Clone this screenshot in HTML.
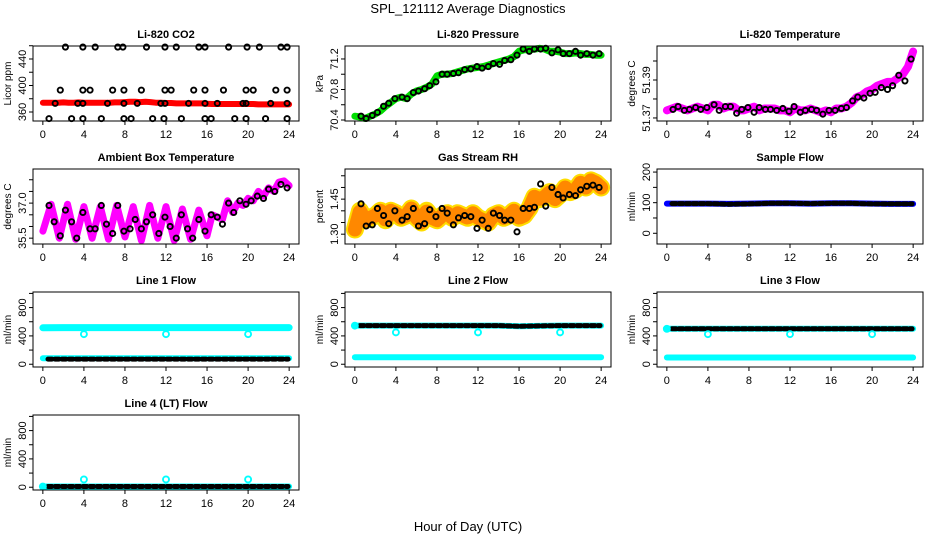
<!DOCTYPE html>
<html><head><meta charset="utf-8"><style>
html,body{margin:0;padding:0;background:#fff;}
svg{display:block;font-family:"Liberation Sans",Arial,sans-serif;}
</style></head><body>
<svg id="fig" width="936" height="540" viewBox="0 0 936 540" xmlns="http://www.w3.org/2000/svg">
<text x="468" y="13" text-anchor="middle" font-size="13">SPL_121112  Average Diagnostics</text>
<text x="468" y="531" text-anchor="middle" font-size="13">Hour of Day (UTC)</text>
</svg>
<script>
// ---- shared time grids ----
const halfHours = [0,0.5,1,1.5,2,2.5,3,3.5,4,4.5,5,5.5,6,6.5,7,7.5,8,8.5,9,9.5,10,10.5,11,11.5,12,12.5,13,13.5,14,14.5,15,15.5,16,16.5,17,17.5,18,18.5,19,19.5,20,20.5,21,21.5,22,22.5,23,23.5,24];
const avgHours = [0.6,1.1,1.7,2.2,2.8,3.3,3.9,4.6,5.1,5.7,6.2,6.8,7.3,7.9,8.5,9.0,9.6,10.1,10.7,11.3,11.9,12.4,13,13.5,14.1,14.6,15.2,15.8,16.4,17,17.5,18.1,18.6,19.2,19.8,20.3,20.9,21.5,22,22.6,23.2,23.8];
const flatHours = [0,2,4,6,8,10,12,14,16,18,20,22,24];
const flatHoursB = [0.5,2,4,6,8,10,12,14,16,18,20,22,23.9];
const xTicks = [0,4,8,12,16,20,24];

// ---- CO2 ----
const co2Band = [374,374,374,374,374.5,374,374,374.5,374,374,374,374,374,374,374.5,374.5,375,375.5,375.5,375,375.5,375,374,374,373.5,373.5,373,373,373,373,373,373,372.5,372,372,372,372,372,372,372,372,372,371.5,371.5,371.5,371.5,371.5,371.5,371.5];
const co2TopHours = [2.2,3.9,5.1,7.3,7.8,10.1,11.9,13,15.2,15.8,18.1,19.9,21.1,23.2,23.8];
const co2TopVals = [458,458,458,458,458,458,458,458,458,458,458,458,458,458,458];
const co2MidHours = [1.7,3.9,4.6,6.8,7.9,9.6,11.9,12.5,14.7,15.8,17.6,19.8,20.5,22.7,23.8];
const co2MidVals = [393,393,393,393,393,393,393,393,393,393,393,393,393,393,393];
const co2LowHours = [1.2,3.4,3.9,6.3,7.9,9.2,11.5,11.9,14.2,15.8,17,19.5,19.8,22.2,23.8];
const co2LowVals = [373,373,373,373,373,373,373,373,373,373,373,373,373,373,373];
const co2BotHours = [0.6,2.8,3.9,5.7,7.9,8.6,10.7,11.8,13.5,15.8,16.4,18.7,19.8,21.7,23.8];
const co2BotVals = [350,350,350,350,350,350,350,350,350,350,350,350,350,350,350];

// ---- Pressure ----
const presBand = [70.45,70.44,70.42,70.45,70.48,70.52,70.58,70.63,70.68,70.7,70.68,70.74,70.78,70.8,70.83,70.87,70.98,71.0,71.0,71.01,71.03,71.05,71.07,71.08,71.09,71.1,71.12,71.14,71.16,71.18,71.2,71.23,71.3,71.32,71.32,71.33,71.34,71.33,71.3,71.3,71.29,71.27,71.27,71.28,71.27,71.26,71.26,71.25,71.25];
const presAvg = [70.45,70.42,70.46,70.5,70.58,70.62,70.68,70.7,70.68,70.76,70.78,70.81,70.85,70.9,71.0,71.0,71.01,71.02,71.06,71.07,71.1,71.08,71.1,71.14,71.13,71.18,71.19,71.25,71.33,71.3,71.33,71.33,71.34,71.28,71.32,71.27,71.27,71.3,71.25,71.27,71.25,71.27];

// ---- Li-820 temperature ----
const tempBand = [51.374,51.375,51.376,51.375,51.374,51.375,51.376,51.375,51.374,51.377,51.377,51.375,51.376,51.376,51.374,51.374,51.375,51.376,51.374,51.375,51.375,51.375,51.374,51.374,51.373,51.375,51.374,51.374,51.375,51.374,51.373,51.374,51.373,51.375,51.375,51.376,51.378,51.381,51.382,51.384,51.385,51.387,51.388,51.389,51.389,51.391,51.393,51.397,51.405];
const tempAvg = [51.3745,51.376,51.374,51.3745,51.3755,51.3745,51.3755,51.377,51.374,51.376,51.376,51.3725,51.3745,51.3755,51.373,51.3755,51.3745,51.3745,51.374,51.375,51.3735,51.376,51.373,51.374,51.3745,51.374,51.372,51.374,51.374,51.375,51.3755,51.379,51.381,51.3805,51.383,51.3835,51.386,51.385,51.387,51.3925,51.3895,51.401];

// ---- Ambient box temperature ----
const ambHours = [0,0.8,1.6,2.4,3.2,4.0,4.8,5.6,6.4,7.2,8.0,8.8,9.6,10.4,11.2,12.0,12.8,13.6,14.4,15.2,16.0,16.5,17,17.5,18,18.5,19,19.5,20,20.5,21,21.5,22,22.5,23,23.5,24];
const ambBand = [35.8,36.95,35.5,36.95,35.45,36.85,35.5,36.85,35.45,36.9,35.55,36.85,35.4,36.9,35.5,36.85,35.4,36.75,35.45,36.7,35.6,36.5,36.4,36.3,37.1,36.6,37.0,36.9,37.2,37.1,37.5,37.3,37.65,37.5,37.9,37.95,37.75];
const ambAvg = [36.9,36.2,35.6,36.7,36.2,35.5,36.6,35.9,35.9,36.9,36.1,35.7,36.9,35.8,35.9,36.3,35.9,36.2,36.5,35.7,36.4,36.0,35.5,36.5,35.9,35.5,36.3,35.8,36.5,36.4,36.1,37.0,36.6,37.1,36.95,37.1,37.3,37.2,37.6,37.5,37.8,37.65];

// ---- Gas stream RH ----
const rhBand = [1.32,1.40,1.36,1.37,1.38,1.40,1.36,1.40,1.39,1.37,1.38,1.41,1.37,1.35,1.40,1.37,1.36,1.38,1.39,1.37,1.39,1.38,1.37,1.39,1.37,1.36,1.35,1.38,1.39,1.37,1.38,1.40,1.37,1.38,1.41,1.46,1.45,1.46,1.48,1.45,1.47,1.50,1.48,1.49,1.52,1.50,1.53,1.52,1.50];
const rhAvg = [1.43,1.335,1.34,1.41,1.38,1.345,1.40,1.36,1.375,1.41,1.335,1.345,1.405,1.375,1.41,1.39,1.34,1.37,1.38,1.375,1.325,1.36,1.325,1.39,1.38,1.36,1.36,1.31,1.41,1.41,1.415,1.515,1.42,1.50,1.47,1.455,1.47,1.465,1.49,1.505,1.51,1.50];

// ---- Flows ----
const sampleBlue = [97,97,97,96,97,98,98,97,98,98,97,96,96];
const sampleBlack = [97,97,97,95,96,98,98,97,98,98,96,96,96];
const line1High = [515,517,517,518,518,518,518,518,518,518,518,518,518];
const line1Low = [85,85,85,85,85,85,85,85,85,85,85,85,85];
const line1Avg = [72,72,72,72,72,72,72,72,72,72,72,72,72];
const line1OutHours = [4,12,20];
const line1OutVals = [425,425,425];
const line2Black = [545,545,545,545,545,545,545,545,535,542,545,545,545];
const line2Low = [100,100,100,100,100,100,100,100,100,100,100,100,100];
const line2OutHours = [0,4,12,20];
const line2OutVals = [545,450,450,450];
const line3Black = [500,500,500,500,500,500,500,500,500,500,500,500,500];
const line3Low = [95,95,95,95,95,95,95,95,95,95,95,95,95];
const line3OutHours = [0,4,12,20];
const line3OutVals = [500,425,425,425];
const line4Black = [10,10,10,10,10,10,10,10,10,10,10,10,10];
const line4Cyan = [10,10,10,10,10,10,10,10,10,10,10,10,10];
const line4OutHours = [0,4,12,20];
const line4OutVals = [10,110,110,110];

const svg = document.getElementById('fig');
const NS = 'http://www.w3.org/2000/svg';
function mk(tag, attrs, parent){const e=document.createElementNS(NS,tag);for(const k in attrs)e.setAttribute(k,attrs[k]);(parent||svg).appendChild(e);return e;}

function panel(col,row,title,ylab,ymin,ymax,ticks,labels,name){
  const L=33+312*col, R=299+312*col, T=46+123*row, B=T+75;
  const g=mk('g',{});
  
  
  const xs=h=>L+(h+0.96)/25.92*(R-L);
  const ys=v=>B-(v-ymin)/(ymax-ymin)*(B-T);
  const plot=mk('g',{},g);
  
  
  const box=mk('rect',{x:L,y:T,width:R-L,height:B-T,fill:'none',stroke:'#000','stroke-width':1},g);
  
  
  const t=mk('text',{x:(L+R)/2,y:T-8,'text-anchor':'middle','font-size':11,'font-weight':'bold'},g);
  t.textContent=title;
  
  
  const yl=mk('text',{x:0,y:0,'text-anchor':'middle','font-size':10,transform:`translate(${L-22},${(T+B)/2}) rotate(-90)`},g);
  yl.textContent=ylab;
  
  
  xTicks.forEach(h=>{
    const x=xs(h);
    mk('line',{x1:x,x2:x,y1:B,y2:B+4,stroke:'#000'},g);
    const tx=mk('text',{x:x,y:B+17,'text-anchor':'middle','font-size':11},g);
    tx.textContent=String(h);
    
    
  });
  ticks.forEach((v,i)=>{
    const y=ys(v);
    mk('line',{x1:L-4,x2:L,y1:y,y2:y,stroke:'#000'},g);
    if(labels[i]!==''){
      const tl=mk('text',{x:0,y:0,'text-anchor':'middle','font-size':11,transform:`translate(${L-7},${y}) rotate(-90)`},g);
      tl.textContent=labels[i];
      
      
    }
  });
  return {plot,xs,ys,name};
}
function band(p,hours,vals,color,w,nm,dash){
  const pts=hours.map((h,i)=>p.xs(h).toFixed(1)+','+p.ys(vals[i]).toFixed(1)).join(' ');
  const a={points:pts,fill:'none',stroke:color,'stroke-width':w,'stroke-linejoin':'round','stroke-linecap':'round'};
  if(dash)a['stroke-dasharray']=dash;
  const e=mk('polyline',a,p.plot);
  
  
}
function circles(p,hours,vals,color,nm,r){
  hours.forEach((h,i)=>{
    const c=mk('circle',{cx:p.xs(h),cy:p.ys(vals[i]),r:r||2.6,fill:'none',stroke:color,'stroke-width':1.9},p.plot);
    
    
  });
}

let p=panel(0,0,'Li-820 CO2','Licor ppm',346.4,459.6,[360,380,400,420,440,460],['360','','400','','440',''],'co2');
band(p,halfHours,co2Band,'#ff0000',6,'band');
circles(p,co2TopHours,co2TopVals,'#000','point');
circles(p,co2MidHours,co2MidVals,'#000','point');
circles(p,co2LowHours,co2LowVals,'#000','point');
circles(p,co2BotHours,co2BotVals,'#000','point');

p=panel(1,0,'Li-820 Pressure','kPa',70.387,71.37,[70.4,70.6,70.8,71.0,71.2],['70.4','','70.8','','71.2'],'pressure');
band(p,halfHours,presBand,'#00dd00',7,'band');
circles(p,avgHours,presAvg,'#000','point');

p=panel(2,0,'Li-820 Temperature','degrees C',51.3684,51.4079,[51.37,51.38,51.39,51.40],['51.37','','51.39',''],'li820-temperature');
band(p,halfHours,tempBand,'#ff00ff',8,'band');
circles(p,avgHours,tempAvg,'#000','point');

p=panel(0,1,'Ambient Box Temperature','degrees C',35.25,38.46,[35.5,36,36.5,37,37.5,38],['35.5','','','37.0','',''],'ambient');
band(p,ambHours,ambBand,'#ff00ff',7,'band');
circles(p,avgHours,ambAvg,'#000','point');

p=panel(1,1,'Gas Stream RH','percent',1.258,1.579,[1.30,1.35,1.40,1.45,1.50,1.55],['1.30','','','1.45','',''],'rh');
band(p,halfHours,rhBand,'#ffdd00',18,'band');
band(p,halfHours,rhBand,'#ff8800',14,'band-speckle','2 2');
circles(p,avgHours,rhAvg,'#000','point');

p=panel(2,1,'Sample Flow','ml/min',-35,210,[0,50,100,150,200],['0','','100','','200'],'sample-flow');
band(p,flatHours,sampleBlue,'#0000ff',6,'band');
band(p,flatHoursB,sampleBlack,'#000',5,'points','4 3');

p=panel(0,2,'Line 1 Flow','ml/min',-39,1020,[0,200,400,600,800,1000],['0','','400','','800',''],'line1');
band(p,flatHours,line1High,'#00ffff',7,'high');
band(p,flatHours,line1Low,'#00ffff',6,'low');
band(p,flatHoursB,line1Avg,'#000',5,'points','4 3');
circles(p,line1OutHours,line1OutVals,'#00ffff','outlier',3);

p=panel(1,2,'Line 2 Flow','ml/min',-39,1020,[0,200,400,600,800,1000],['0','','400','','800',''],'line2');
band(p,flatHours,line2Low,'#00ffff',6,'low');
band(p,flatHours,line2Black,'#00ffff',6,'cyan');
band(p,flatHoursB,line2Black,'#000',5,'points','4 3');
circles(p,line2OutHours,line2OutVals,'#00ffff','outlier',3);

p=panel(2,2,'Line 3 Flow','ml/min',-39,1020,[0,200,400,600,800,1000],['0','','400','','800',''],'line3');
band(p,flatHours,line3Low,'#00ffff',6,'low');
band(p,flatHours,line3Black,'#00ffff',6,'cyan');
band(p,flatHoursB,line3Black,'#000',5,'points','4 3');
circles(p,line3OutHours,line3OutVals,'#00ffff','outlier',3);

p=panel(0,3,'Line 4 (LT) Flow','ml/min',-39,1020,[0,200,400,600,800,1000],['0','','400','','800',''],'line4');
band(p,flatHours,line4Cyan,'#00ffff',6,'cyan');
band(p,flatHoursB,line4Black,'#000',5,'points','4 3');
circles(p,line4OutHours,line4OutVals,'#00ffff','outlier',3);
</script>
</body></html>
